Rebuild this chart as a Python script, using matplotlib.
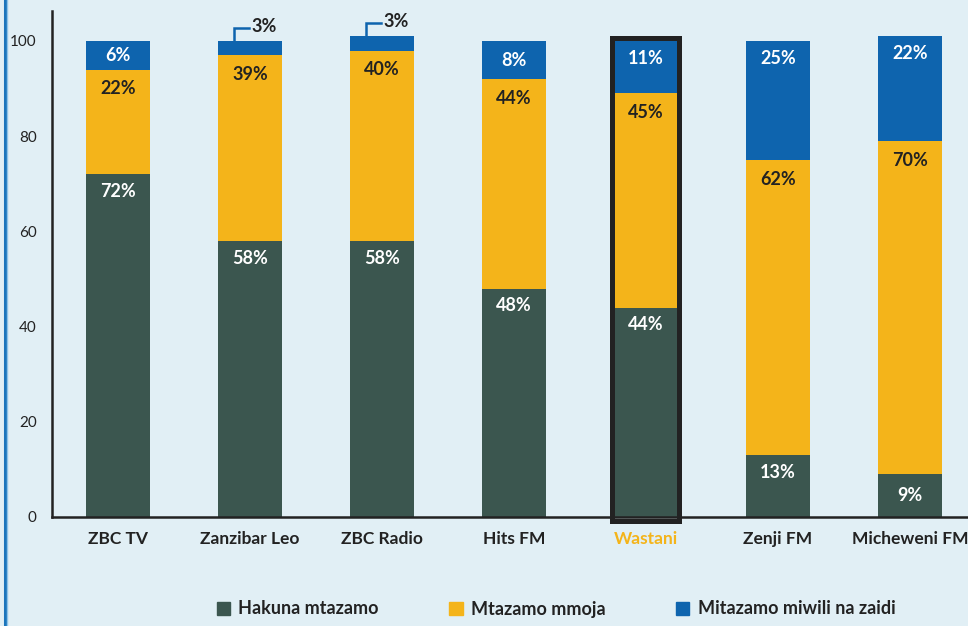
import matplotlib.pyplot as plt
from matplotlib.patches import Rectangle
from matplotlib.lines import Line2D

plt.rcParams['font.family'] = ['Lato', 'DejaVu Sans']

# data
stations = ['ZBC TV', 'Zanzibar Leo', 'ZBC Radio', 'Hits FM', 'Wastani', 'Zenji FM', 'Micheweni FM']
hakuna = [72, 58, 58, 48, 44, 13, 9]
mmoja = [22, 39, 40, 44, 45, 62, 70]
miwili = [6, 3, 3, 8, 11, 25, 22]
series_names = ['Hakuna mtazamo', 'Mtazamo mmoja', 'Mitazamo miwili na zaidi']

bg = '#e1eff5'
c_green = '#3b564f'
c_yellow = '#f4b41a'
c_blue = '#0e64ae'
dark = '#222222'

fig = plt.figure(figsize=(9.68, 6.26), dpi=100, facecolor=bg)
ax = fig.add_axes([52 / 968, 1 - 517 / 626, 1 - 52 / 968, (517 - 11) / 626])
ax.set_facecolor(bg)

x = list(range(len(stations)))
w = 0.485
ax.bar(x, hakuna, w, color=c_green, zorder=2)
ax.bar(x, mmoja, w, bottom=hakuna, color=c_yellow, zorder=2)
bot3 = [a + b for a, b in zip(hakuna, mmoja)]
ax.bar(x, miwili, w, bottom=bot3, color=c_blue, zorder=2)

ax.set_xlim(-0.5, 6.44)
ax.set_ylim(0, 106.3)
ax.set_yticks([0, 20, 40, 60, 80, 100])
ax.tick_params(axis='y', length=0, pad=11, labelsize=11, labelcolor=dark)
ax.tick_params(axis='x', length=0, pad=10)
ax.set_xticks(x)
ax.set_xticklabels(stations, fontsize=12.5, fontweight='bold', color=dark)
ax.get_xticklabels()[4].set_color(c_yellow)
for s in ['top', 'right']:
    ax.spines[s].set_visible(False)
for s in ['left', 'bottom']:
    ax.spines[s].set_color(dark)
    ax.spines[s].set_linewidth(1.8)

# labels near top of each segment
def seg_label(xi, bottom, val, color, off=13):
    top = bottom + val
    if val < 10:
        ax.text(xi, bottom + val / 2, f'{val}%', ha='center', va='center',
                fontsize=13, fontweight='bold', color=color, zorder=4)
    else:
        ax.annotate(f'{val}%', (xi, top), xytext=(0, -off), textcoords='offset points',
                    ha='center', va='center', fontsize=13, fontweight='bold',
                    color=color, zorder=4)

for i in x:
    seg_label(i, 0, hakuna[i], 'white', 12.5)
    seg_label(i, hakuna[i], mmoja[i], dark, 14)
    if miwili[i] >= 5:
        seg_label(i, bot3[i], miwili[i], 'white', 12.5)
    else:
        top = bot3[i] + miwili[i]
        xl = i - 0.12
        ax.plot([xl, xl, xl + 0.11], [top - 0.3, top + 2.8, top + 2.8],
                color=c_blue, lw=1.8, clip_on=False, zorder=3, solid_joinstyle='miter')
        ax.text(xl + 0.135, top + 3.0, f'{miwili[i]}%', ha='left', va='center',
                fontsize=13, fontweight='bold', color=dark)

# highlight Wastani
ax.add_patch(Rectangle((4 - 0.254, -0.74), 0.508, 101.44, fill=False,
                       edgecolor=dark, lw=3.6, clip_on=False, zorder=5))

# left border
fig.add_artist(Line2D([4.5 / 968, 4.5 / 968], [0, 1], color='#1b75bc', lw=2.2))
fig.add_artist(Line2D([6.5 / 968, 6.5 / 968], [0, 1], color='#8cc3e8', lw=1))

handles = [Rectangle((0, 0), 1, 1, color=c) for c in (c_green, c_yellow, c_blue)]
fig.legend(handles, series_names, loc='center', bbox_to_anchor=(556 / 968, 1 - 609 / 626),
           ncol=3, frameon=False, handlelength=0.75, handleheight=0.75, handletextpad=0.45,
           columnspacing=3.9, prop={'size': 13, 'weight': 'bold'}, labelcolor=dark)

fig.savefig('out.png', dpi=100, facecolor=bg)
